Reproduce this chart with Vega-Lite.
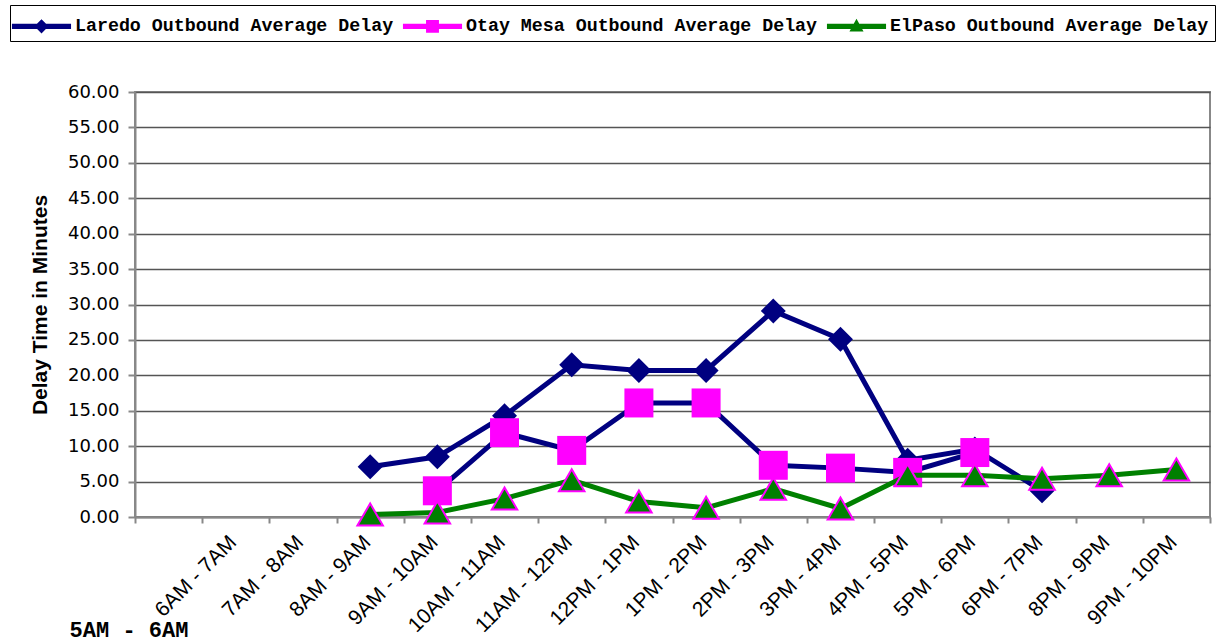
{
  "$schema": "https://vega.github.io/schema/vega-lite/v6.json",
  "width": 1075,
  "height": 425,
  "autosize": {"type": "none"},
  "padding": {"left": 135, "top": 92, "right": 12, "bottom": 126},
  "background": "white",
  "config": {"view": {"stroke": "#888888", "strokeWidth": 2}},
  "resolve": {"axis": {"x": "independent"}},
  "data": {"values": [
    {"slot": "8AM - 9AM", "series": "Laredo Outbound Average Delay", "delay": 7.1},
    {"slot": "9AM - 10AM", "series": "Laredo Outbound Average Delay", "delay": 8.5},
    {"slot": "10AM - 11AM", "series": "Laredo Outbound Average Delay", "delay": 14.3},
    {"slot": "11AM - 12PM", "series": "Laredo Outbound Average Delay", "delay": 21.5},
    {"slot": "12PM - 1PM", "series": "Laredo Outbound Average Delay", "delay": 20.7},
    {"slot": "1PM - 2PM", "series": "Laredo Outbound Average Delay", "delay": 20.7},
    {"slot": "2PM - 3PM", "series": "Laredo Outbound Average Delay", "delay": 29.1},
    {"slot": "3PM - 4PM", "series": "Laredo Outbound Average Delay", "delay": 25.1},
    {"slot": "4PM - 5PM", "series": "Laredo Outbound Average Delay", "delay": 8.0},
    {"slot": "5PM - 6PM", "series": "Laredo Outbound Average Delay", "delay": 9.6},
    {"slot": "6PM - 7PM", "series": "Laredo Outbound Average Delay", "delay": 3.7},
    {"slot": "9AM - 10AM", "series": "Otay Mesa Outbound Average Delay", "delay": 3.7},
    {"slot": "10AM - 11AM", "series": "Otay Mesa Outbound Average Delay", "delay": 11.9},
    {"slot": "11AM - 12PM", "series": "Otay Mesa Outbound Average Delay", "delay": 9.4},
    {"slot": "12PM - 1PM", "series": "Otay Mesa Outbound Average Delay", "delay": 16.1},
    {"slot": "1PM - 2PM", "series": "Otay Mesa Outbound Average Delay", "delay": 16.1},
    {"slot": "2PM - 3PM", "series": "Otay Mesa Outbound Average Delay", "delay": 7.3},
    {"slot": "3PM - 4PM", "series": "Otay Mesa Outbound Average Delay", "delay": 6.9},
    {"slot": "4PM - 5PM", "series": "Otay Mesa Outbound Average Delay", "delay": 6.3},
    {"slot": "5PM - 6PM", "series": "Otay Mesa Outbound Average Delay", "delay": 9.1},
    {"slot": "8AM - 9AM", "series": "ElPaso Outbound Average Delay", "delay": 0.35},
    {"slot": "9AM - 10AM", "series": "ElPaso Outbound Average Delay", "delay": 0.65},
    {"slot": "10AM - 11AM", "series": "ElPaso Outbound Average Delay", "delay": 2.6},
    {"slot": "11AM - 12PM", "series": "ElPaso Outbound Average Delay", "delay": 5.2},
    {"slot": "12PM - 1PM", "series": "ElPaso Outbound Average Delay", "delay": 2.2},
    {"slot": "1PM - 2PM", "series": "ElPaso Outbound Average Delay", "delay": 1.3},
    {"slot": "2PM - 3PM", "series": "ElPaso Outbound Average Delay", "delay": 4.0},
    {"slot": "3PM - 4PM", "series": "ElPaso Outbound Average Delay", "delay": 1.2},
    {"slot": "4PM - 5PM", "series": "ElPaso Outbound Average Delay", "delay": 5.9},
    {"slot": "5PM - 6PM", "series": "ElPaso Outbound Average Delay", "delay": 5.9},
    {"slot": "6PM - 7PM", "series": "ElPaso Outbound Average Delay", "delay": 5.4},
    {"slot": "8PM - 9PM", "series": "ElPaso Outbound Average Delay", "delay": 5.9},
    {"slot": "9PM - 10PM", "series": "ElPaso Outbound Average Delay", "delay": 6.7}
  ]},
  "encoding": {
    "y": {
      "field": "delay",
      "type": "quantitative",
      "scale": {"domain": [0, 60], "nice": false, "zero": true},
      "axis": {
        "title": "Delay Time in Minutes",
        "titleFont": "Liberation Sans",
        "titleFontSize": 21,
        "titleFontWeight": "bold",
        "titleColor": "#000000",
        "titlePadding": 17,
        "values": [0, 5, 10, 15, 20, 25, 30, 35, 40, 45, 50, 55, 60],
        "format": ".2f",
        "labelFont": "DejaVu Sans",
        "labelFontSize": 18,
        "labelColor": "#000000",
        "labelPadding": 9,
        "tickSize": 7,
        "tickWidth": 2,
        "tickColor": "#888888",
        "domainColor": "#888888",
        "domainWidth": 2,
        "grid": true,
        "gridColor": "#555555",
        "gridWidth": 1.3
      }
    },
    "order": {"value": null}
  },
  "layer": [
    {
      "mark": {"type": "point", "filled": true, "opacity": 0, "size": 10},
      "encoding": {
        "x": {
          "field": "slot",
          "type": "nominal",
          "scale": {
            "type": "band",
            "paddingInner": 0,
            "paddingOuter": 0,
            "domain": ["5AM - 6AM", "6AM - 7AM", "7AM - 8AM", "8AM - 9AM", "9AM - 10AM", "10AM - 11AM", "11AM - 12PM", "12PM - 1PM", "1PM - 2PM", "2PM - 3PM", "3PM - 4PM", "4PM - 5PM", "5PM - 6PM", "6PM - 7PM", "8PM - 9PM", "9PM - 10PM"]
          },
          "axis": {
            "orient": "bottom",
            "title": null,
            "grid": false,
            "tickBand": "extent",
            "ticks": true,
            "tickSize": 6,
            "tickWidth": 2,
            "tickColor": "#888888",
            "domainColor": "#888888",
            "domainWidth": 2,
            "labelExpr": "datum.value === '5AM - 6AM' ? '' : datum.label",
            "labelAngle": -45,
            "labelAlign": "right",
            "labelBaseline": "middle",
            "labelFont": "Liberation Sans",
            "labelFontSize": 21,
            "labelColor": "#000000",
            "labelPadding": 16,
            "labelOffset": -3,
            "labelOverlap": false,
            "labelBound": false,
            "labelFlush": false,
            "labelLimit": 300
          }
        },
        "color": {
          "field": "series",
          "type": "nominal",
          "scale": {"domain": ["Laredo Outbound Average Delay", "Otay Mesa Outbound Average Delay", "ElPaso Outbound Average Delay"], "range": ["#000080", "#FF00FF", "#008000"]},
          "legend": {
            "title": null,
            "orient": "none",
            "legendX": -125,
            "legendY": -87,
            "direction": "horizontal",
            "columns": 3,
            "padding": 6,
            "strokeColor": "#000000",
            "fillColor": "#FFFFFF",
            "labelFont": "Liberation Mono",
            "labelFontSize": 18.3,
            "labelFontWeight": "bold",
            "labelColor": "#000000",
            "labelLimit": 600,
            "labelOffset": 29,
            "columnPadding": 8,
            "symbolSize": 900,
            "symbolStrokeWidth": 0,
            "symbolOpacity": 1
          }
        },
        "shape": {
          "field": "series",
          "type": "nominal",
          "scale": {
            "domain": ["Laredo Outbound Average Delay", "Otay Mesa Outbound Average Delay", "ElPaso Outbound Average Delay"],
            "range": [
              "M-1.27,-0.17H2.67V0.17H-1.27Z M0.7,-0.47L1.17,0L0.7,0.47L0.23,0Z",
              "M-1.27,-0.17H2.67V0.17H-1.27Z M0.27,-0.43H1.13V0.43H0.27Z",
              "M-1.27,-0.17H2.67V0.17H-1.27Z M0.7,-0.5L1.17,0.35H0.23Z"
            ]
          },
          "legend": {
            "title": null,
            "orient": "none",
            "legendX": -125,
            "legendY": -87,
            "direction": "horizontal",
            "columns": 3,
            "padding": 6,
            "strokeColor": "#000000",
            "fillColor": "#FFFFFF",
            "labelFont": "Liberation Mono",
            "labelFontSize": 18.3,
            "labelFontWeight": "bold",
            "labelColor": "#000000",
            "labelLimit": 600,
            "labelOffset": 29,
            "columnPadding": 8,
            "symbolSize": 900,
            "symbolStrokeWidth": 0,
            "symbolOpacity": 1
          }
        }
      }
    },
    {
      "transform": [{"filter": "datum.series === 'Laredo Outbound Average Delay'"}],
      "mark": {"type": "line", "color": "#000080", "strokeWidth": 5},
      "encoding": {
        "x": {
          "field": "slot",
          "type": "nominal",
          "axis": {
            "orient": "bottom",
            "title": null,
            "grid": false,
            "domain": false,
            "ticks": false,
            "labelExpr": "datum.value === '5AM - 6AM' ? datum.label : ''",
            "labelAngle": 0,
            "labelAlign": "left",
            "labelBaseline": "alphabetic",
            "labelFont": "Liberation Mono",
            "labelFontWeight": "bold",
            "labelFontSize": 22,
            "labelColor": "#000000",
            "labelPadding": 119,
            "labelOffset": -99,
            "labelOverlap": false,
            "labelBound": false,
            "labelFlush": false,
            "labelLimit": 300
          }
        }
      }
    },
    {
      "transform": [{"filter": "datum.series === 'Laredo Outbound Average Delay'"}],
      "mark": {"type": "point", "shape": "diamond", "filled": true, "color": "#000080", "size": 625, "opacity": 1, "strokeWidth": 0},
      "encoding": {"x": {"field": "slot", "type": "nominal", "axis": null}}
    },
    {
      "transform": [{"filter": "datum.series === 'Otay Mesa Outbound Average Delay'"}],
      "mark": {"type": "line", "color": "#000080", "strokeWidth": 5},
      "encoding": {"x": {"field": "slot", "type": "nominal", "axis": null}}
    },
    {
      "transform": [{"filter": "datum.series === 'Otay Mesa Outbound Average Delay'"}],
      "mark": {"type": "point", "shape": "square", "filled": true, "color": "#FF00FF", "size": 841, "opacity": 1, "strokeWidth": 0},
      "encoding": {"x": {"field": "slot", "type": "nominal", "axis": null}}
    },
    {
      "transform": [{"filter": "datum.series === 'ElPaso Outbound Average Delay'"}],
      "mark": {"type": "line", "color": "#008000", "strokeWidth": 5},
      "encoding": {"x": {"field": "slot", "type": "nominal", "axis": null}}
    },
    {
      "transform": [{"filter": "datum.series === 'ElPaso Outbound Average Delay'"}],
      "mark": {"type": "point", "shape": "triangle-up", "filled": true, "color": "#008000", "size": 650, "opacity": 1, "stroke": "#FF00FF", "strokeWidth": 2},
      "encoding": {"x": {"field": "slot", "type": "nominal", "axis": null}}
    }
  ]
}
